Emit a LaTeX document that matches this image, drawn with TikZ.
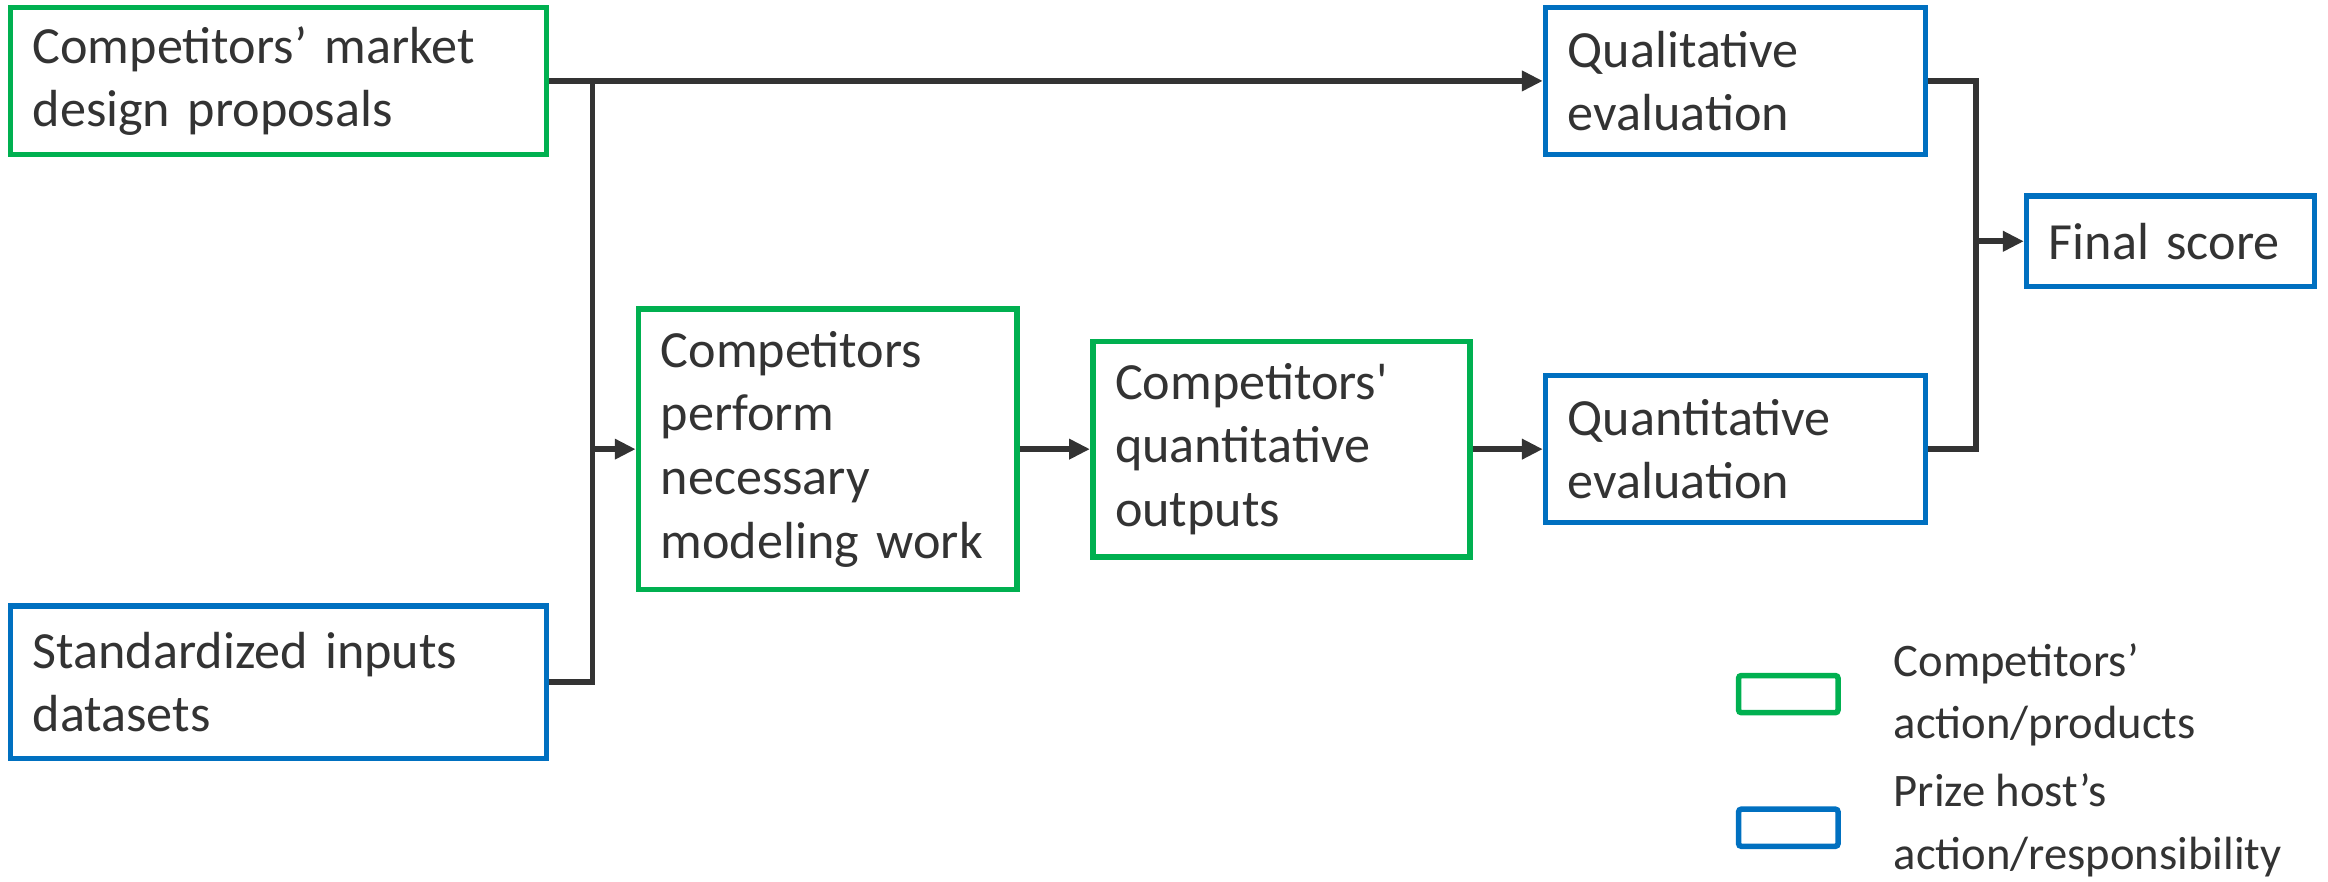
\documentclass[tikz,border=0pt]{standalone}
\usepackage{fontspec}
\setmainfont{Carlito}
\usetikzlibrary{arrows.meta}
\definecolor{cgreen}{HTML}{00B050}
\definecolor{cblue}{HTML}{0070C0}
\definecolor{cline}{HTML}{333333}
\newcommand{\boxfont}{\fontsize{15pt}{18.3pt}\selectfont}
\newcommand{\legfont}{\fontsize{13.4pt}{18pt}\selectfont}
\begin{document}
\begin{tikzpicture}[x=0.015cm,y=-0.015cm,
  bx/.style={draw, line width=1.6pt, inner xsep=0.225cm, inner ysep=0pt,
    align=left, font=\boxfont, text=cline},
  gbox/.style={bx, draw=cgreen},
  bbox/.style={bx, draw=cblue},
  conn/.style={draw=cline, line width=1.6pt},
  arr/.style={conn, -{Triangle[length=6pt,width=5.6pt]}},
  legbox/.style={draw, line width=1.6pt, rounded corners=0.8pt, minimum width=1.005cm, minimum height=0.375cm, inner sep=0pt},
  legtext/.style={anchor=west, inner sep=0pt, align=left, font=\legfont, text=cline}
]
\useasboundingbox (0,0) rectangle (1568,594);

\node[gbox, text width=4.965cm, minimum height=1.485cm] (b1) at (187.5,54.5) {Competitors’ market\\design proposals};
\node[bbox, text width=4.965cm, minimum height=1.545cm] (b2) at (187.5,459.5) {Standardized inputs\\datasets};
\node[gbox, text width=3.375cm, minimum height=2.835cm] (b3) at (557.5,302.5) {Competitors\\perform\\necessary\\modeling work};
\node[gbox, text width=3.36cm, minimum height=2.175cm] (b4) at (863,302.5) {Competitors\textquotesingle\\quantitative\\outputs};
\node[bbox, text width=3.39cm, minimum height=1.485cm] (b5) at (1169,54.5) {Qualitative\\evaluation};
\node[bbox, text width=3.39cm, minimum height=1.485cm] (b6) at (1169,302.5) {Quantitative\\evaluation};
\node[bbox, text width=2.46cm, minimum height=0.915cm] (b7) at (1462,162.5) {Final score};

\coordinate (j1) at (399,54.5);
\coordinate (j2) at (399,302.5);
\coordinate (k1) at (1331,54.5);
\coordinate (k2) at (1331,162.5);

\draw[arr] (b1.east) -- (b5.west);
\draw[conn] (j1) |- (b2.east);
\draw[arr] (j2) -- (b3.west);
\draw[arr] (b3.east) -- (b4.west);
\draw[arr] (b4.east) -- (b6.west);
\draw[conn] (b5.east) -- (k1) |- (b6.east);
\draw[arr] (k2) -- (b7.west);

\node[legbox, draw=cgreen] (lg) at (1204.5,467.5) {};
\node[legbox, draw=cblue] (lb) at (1204.5,557.5) {};
\node[legtext] (lgt) at (1275,468) {Competitors’\\action/products};
\node[legtext] (lbt) at (1275,556) {Prize host’s\\action/responsibility};
\end{tikzpicture}
\end{document}
